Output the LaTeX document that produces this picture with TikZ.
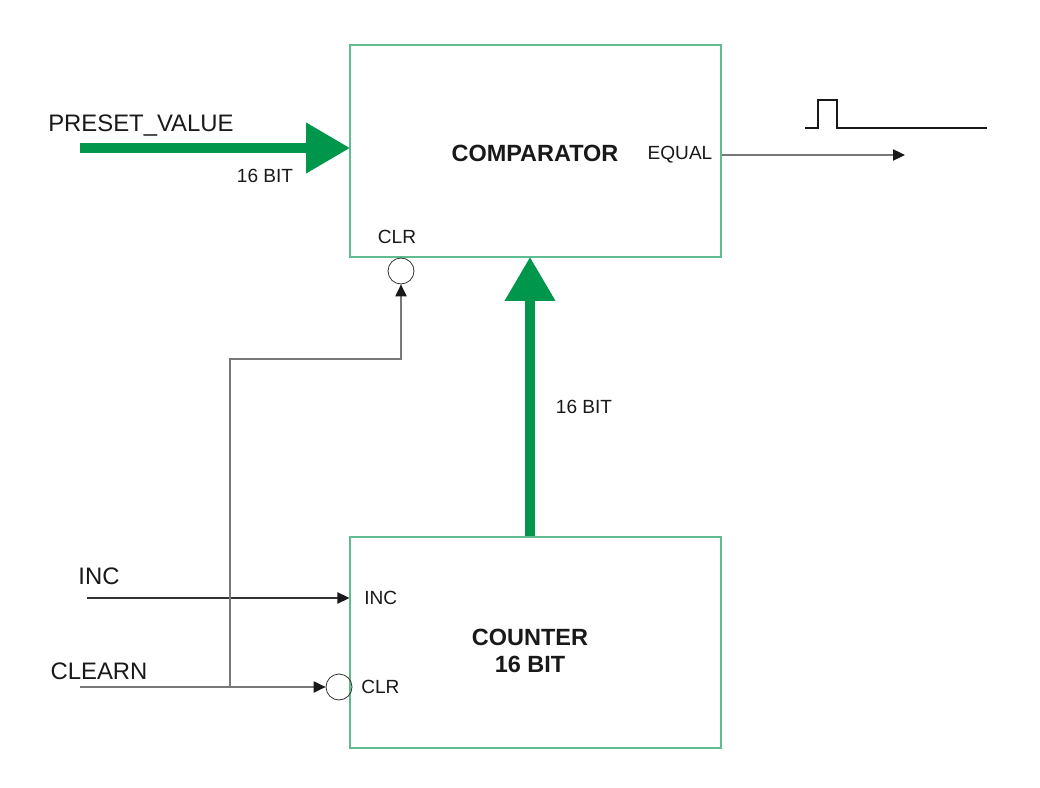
\documentclass[tikz,border=0pt]{standalone}
\usepackage{fontspec}
\setmainfont{Liberation Sans}
\usetikzlibrary{arrows.meta}
\definecolor{boxgreen}{RGB}{95,188,145}
\definecolor{busgreen}{RGB}{0,150,75}
\definecolor{wiregray}{RGB}{120,120,120}
\definecolor{wiredark}{RGB}{50,50,50}
\definecolor{txt}{RGB}{25,25,25}
\tikzset{
  blk/.style={draw=boxgreen, line width=0.8pt, inner sep=0pt, minimum width=278.25pt},
  bus/.style={draw=busgreen, line width=7.5pt, -{Triangle[length=33pt,width=36pt]}, shorten >=-0.5pt},
  sig/.style={draw=wiregray, line width=0.8pt, -{Triangle[length=9pt,width=8.5pt,color=txt]}},
  sigd/.style={draw=wiredark, line width=0.8pt, -{Triangle[length=9pt,width=8.5pt,color=txt]}},
  bub/.style={circle, draw=wiredark, line width=0.6pt, minimum size=19.5pt, inner sep=0pt},
  lbl/.style={text=txt, font=\fontsize{14.3}{16}\selectfont, inner sep=0pt},
  big/.style={text=txt, font=\fontsize{17.9}{20}\selectfont, inner sep=0pt},
  bold/.style={text=txt, font=\fontsize{17.6}{20}\selectfont\bfseries, inner sep=0pt, align=center},
}
\begin{document}
\begin{tikzpicture}[x=0.75pt, y=-0.75pt]
\useasboundingbox (0,0) rectangle (1040,788);
% blocks
\node[blk, minimum height=159pt] (comp) at (535.5,151) {};
\node[blk, minimum height=158.25pt] (cnt) at (535.5,642.5) {};
\node[bold] (comptxt) at (535,153) {COMPARATOR};
\node[bold] (cnttxt) at (530,651) {COUNTER\\16 BIT};
% pin labels
\node[lbl] (eq) at (680,155) {EQUAL};
\node[lbl] (cclr) at (397,237) {CLR};
\node[lbl, anchor=west] (kinc) at (364,598) {INC};
\node[lbl, anchor=west] (kclr) at (361,687) {CLR};
% bubbles
\node[bub] (cb) at (401,271) {};
\node[bub] (kb) at (339,687) {};
% buses
\coordinate (pv) at (80,148);
\draw[bus] (pv) -- (comp.west |- pv);
\node[big, anchor=west] (pvl) at (48,126) {PRESET\_VALUE};
\node[lbl] (b1) at (265,176) {16 BIT};
\coordinate (vx) at (530,400);
\draw[bus] (cnt.north -| vx) -- (comp.south -| vx);
\node[lbl] (b2) at (584,407) {16 BIT};
% output
\coordinate (eqend) at (905,155);
\draw[sig] (comp.east |- eqend) -- (eqend);
\draw[line width=1.9pt, txt] (805,128) -- (818,128) -- (818,100) -- (837,100) -- (837,128) -- (987,128);
% inputs
\coordinate (incin) at (87,598);
\node[big] (incl) at (99,576) {INC};
\draw[sigd] (incin) -- (cnt.west |- incin);
\coordinate (clin) at (80,687);
\node[big] (cll) at (99,671) {CLEARN};
\draw[sig] (clin) -- (kb.west);
\coordinate (j) at (230,687);
\coordinate (jt) at (230,359);
\draw[sig] (j) -- (jt) -| (cb.south);
\end{tikzpicture}
\end{document}
